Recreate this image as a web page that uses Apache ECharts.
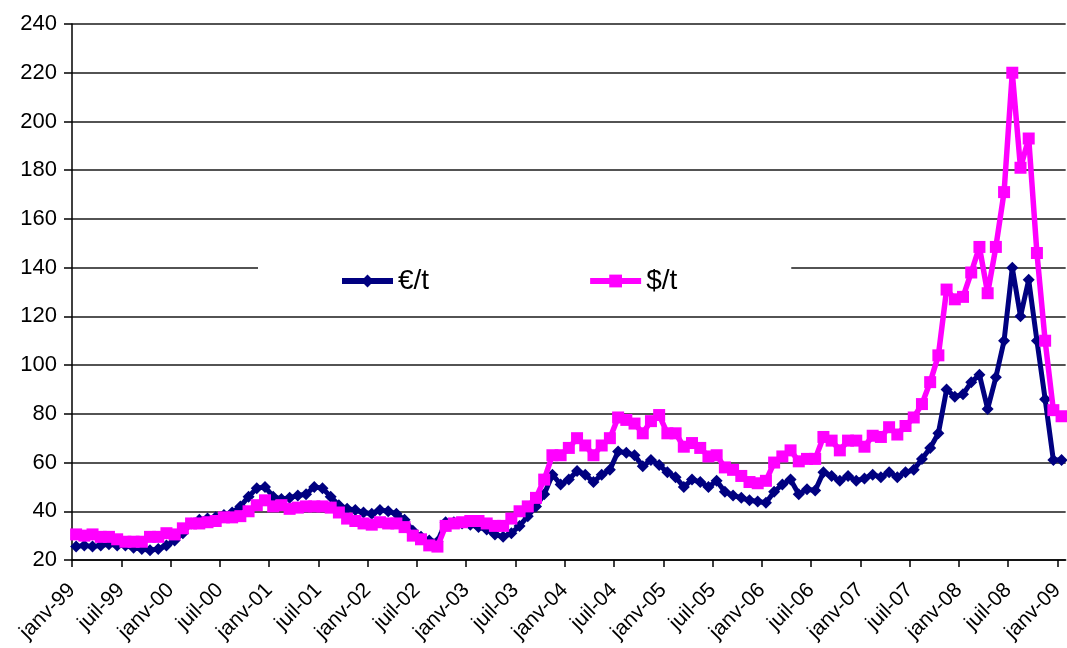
<!DOCTYPE html>
<html>
<head>
<meta charset="utf-8">
<script src="https://cdn.jsdelivr.net/npm/echarts@6/dist/echarts.min.js"></script>
<style>
html,body{margin:0;padding:0;background:#fff;}
#c{width:1067px;height:648px;}
</style>
</head>
<body>
<div id="c"></div>
<script>
// Monthly prices, janv-99 .. janv-09
const months = [];
const mNames = ['janv','févr','mars','avr','mai','juin','juil','août','sept','oct','nov','déc'];
for (let y = 99; y <= 109; y++) {
  for (let m = 0; m < 12; m++) {
    if (months.length < 121) months.push(mNames[m] + '-' + String(y % 100).padStart(2, '0'));
  }
}
const tickLabels = ['janv-99','juil-99','janv-00','juil-00','janv-01','juil-01','janv-02','juil-02','janv-03','juil-03','janv-04','juil-04','janv-05','juil-05','janv-06','juil-06','janv-07','juil-07','janv-08','juil-08','janv-09'];

const eurPerT = [
  25.5,26,25.5,26,26.5,26,26,25,24.5,24,24.5,26,
  28,31,35,36.5,37,37.5,38.5,39.5,42,46,49.5,50,
  46,45,45.5,46.5,47,50,49.5,46,42.5,41,40.5,39.5,
  39,40.5,40,39,36.5,32,29.5,28,27.5,35.5,35.5,35,
  34.5,33.5,32.5,30.5,29.5,31,34,38,42,47,55,51,
  53,56.5,55,52,55,57,64.5,64,63,58.5,61,59,
  56,54,50,53,52,50,52.5,48,46.5,45.5,44.5,44,
  43.5,48,51,53,47,49,48.5,56,54.5,52.5,54.5,52.5,
  53.5,55,54,56,54,56,57,61.5,66,72,90,87,
  88,93,96,82,95,110,140,120,135,110,86,61,
  61
];
const usdPerT = [
  30.5,30,30.5,29.5,29.5,28.5,27.5,27.5,27.5,29.5,29.5,31,
  30.5,33,35,35,35.5,36,37.5,37.5,38,40,42.5,44.5,
  42,42.5,41,41.5,42,42,42,41.5,39.5,37,36,35,
  34.5,35.5,35,35,33.5,30,28.5,26,25.5,34,35,35.5,
  36,36,35,34,34,37,40,42,45.5,53,63,63,
  66,70,67,63,67,70,78.5,77.5,76,72,77,79.5,
  72,72,66.5,68,66,62.5,63,58,57,54.5,52,51.5,
  52.5,60,62.5,65,60.5,61.5,61.5,70.5,69,65,69,69,
  66.5,71,70.5,74.5,71.5,75,78.5,84,93,104,131,127,
  128,138,148.5,129.5,148.5,171,220,181,193,146,110,81.5,
  79
];

const font = '"Liberation Sans", Arial, sans-serif';
const toPairs = arr => arr.map((v, i) => [i + 0.5, v]);
const tickVals = tickLabels.map((_, k) => k * 6);

const chart = echarts.init(document.getElementById('c'), null, {renderer: 'canvas'});
chart.setOption({
  animation: false,
  backgroundColor: '#fff',
  grid: {left: 72, right: 0, top: 24, bottom: 88, containLabel: false},
  legend: {
    data: ['€/t', '$/t'],
    left: 258, top: 252,
    padding: [15, 114, 15, 81],
    itemGap: 158,
    itemWidth: 51, itemHeight: 16,
    backgroundColor: '#fff',
    lineStyle: {width: 6},
    textStyle: {fontFamily: font, fontSize: 28, color: '#000'}
  },
  xAxis: {
    type: 'value',
    min: 0, max: months.length,
    interval: 6,
    splitLine: {show: false},
    axisLine: {show: true, lineStyle: {color: '#000', width: 1.5}},
    axisTick: {show: true, length: 7, customValues: tickVals, lineStyle: {color: '#000', width: 1.5}},
    axisLabel: {
      customValues: tickVals,
      rotate: 45, margin: 27,
      fontFamily: font, fontSize: 21, color: '#000',
      formatter: v => tickLabels[Math.round(v / 6)] || ''
    }
  },
  yAxis: {
    type: 'value',
    min: 20, max: 240, interval: 20,
    axisLine: {show: true, lineStyle: {color: '#000', width: 1.5}},
    axisTick: {show: true, length: 8, lineStyle: {color: '#000', width: 1.5}},
    axisLabel: {margin: 15, fontFamily: font, fontSize: 22, color: '#000'},
    splitLine: {show: true, lineStyle: {color: '#1a1a1a', width: 1.5}}
  },
  series: [
    {
      name: '€/t', type: 'line', data: toPairs(eurPerT),
      symbol: 'diamond', symbolSize: 12,
      itemStyle: {color: '#000080'},
      lineStyle: {color: '#000080', width: 5},
      z: 3
    },
    {
      name: '$/t', type: 'line', data: toPairs(usdPerT),
      symbol: 'rect', symbolSize: 12,
      itemStyle: {color: '#FF00FF'},
      lineStyle: {color: '#FF00FF', width: 5.5},
      z: 4
    }
  ]
});
</script>
</body>
</html>
